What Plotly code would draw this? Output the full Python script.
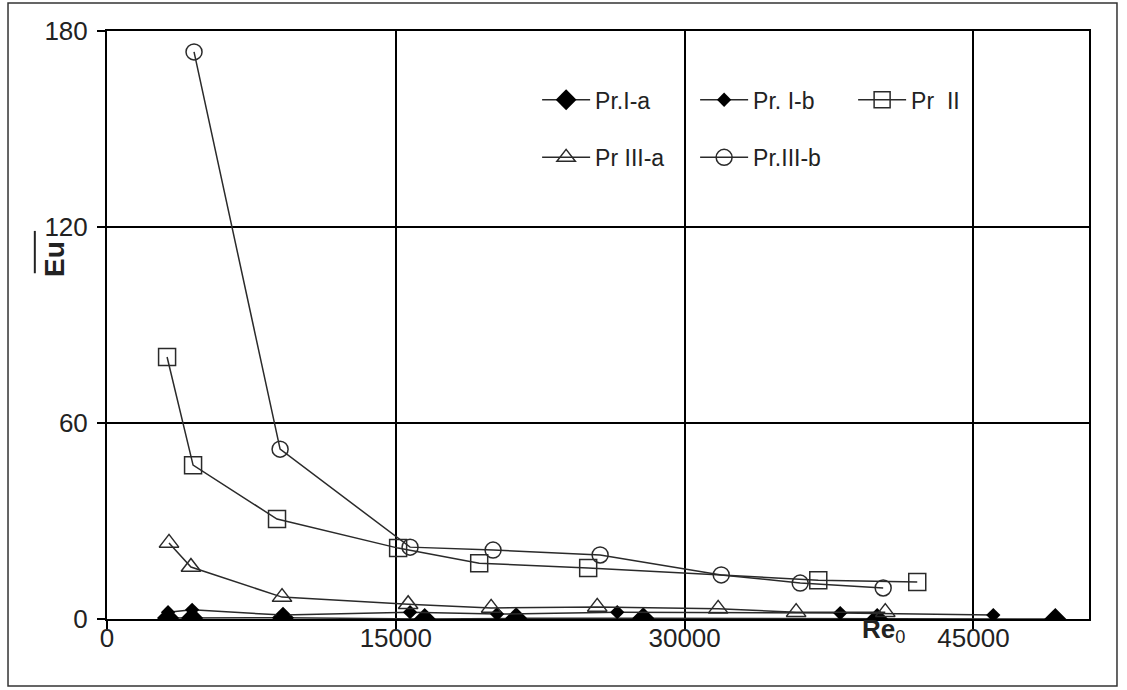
import plotly.graph_objects as go

# Data (Re0 vs mean Eu)
re_1a = [3170, 4420, 9140, 16500, 21250, 27850, 40000, 49250]
eu_1a = [0.3, 0.3, 0.4, 0.0, 0.2, 0.2, 0.0, 0.0]

re_1b = [3170, 4420, 9140, 15740, 20260, 26500, 38080, 46030]
eu_1b = [2.1, 2.8, 1.2, 2.1, 1.5, 2.1, 1.8, 1.2]

re_2 = [3120, 4470, 8830, 15120, 19330, 24990, 36940, 42080]
eu_2 = [80.2, 47.1, 30.6, 21.7, 17.1, 15.6, 11.9, 11.3]

re_3a = [3220, 4360, 9090, 15640, 19950, 25460, 31740, 35790, 40420]
eu_3a = [23.3, 15.9, 6.7, 4.5, 3.4, 3.7, 3.1, 2.1, 2.1]

re_3b = [4520, 8990, 15740, 20050, 25610, 31900, 36000, 40310]
eu_3b = [173.6, 52.0, 22.0, 21.1, 19.6, 13.5, 11.0, 9.5]

FONT = "Liberation Sans, Arial, sans-serif"
LINE = dict(color="#2a2a2a", width=1.5)

fig = go.Figure()

# row 1 of the legend
fig.add_trace(go.Scatter(
    x=re_1a, y=eu_1a, name="Pr.I-a", mode="lines+markers", line=LINE,
    marker=dict(symbol="diamond", size=17, color="black"), legend="legend",
))
fig.add_trace(go.Scatter(
    x=re_1b, y=eu_1b, name="Pr. I-b", mode="lines+markers", line=LINE,
    marker=dict(symbol="diamond", size=11, color="black"), legend="legend",
))
fig.add_trace(go.Scatter(
    x=re_2, y=eu_2, name="Pr\u00a0 II", mode="lines+markers", line=LINE,
    marker=dict(symbol="square-open", size=17, color="#2a2a2a",
                line=dict(width=1.5)),
    legend="legend",
))
# row 2 of the legend
fig.add_trace(go.Scatter(
    x=re_3a, y=eu_3a, name="Pr III-a", mode="lines+markers", line=LINE,
    marker=dict(symbol="triangle-up-open", size=17, color="#2a2a2a",
                line=dict(width=1.5)),
    legend="legend2",
))
fig.add_trace(go.Scatter(
    x=re_3b, y=eu_3b, name="Pr.III-b", mode="lines+markers", line=LINE,
    marker=dict(symbol="circle-open", size=16, color="#2a2a2a",
                line=dict(width=1.5)),
    legend="legend2",
))

legend_common = dict(
    orientation="h", xanchor="left", yanchor="middle",
    entrywidth=95, entrywidthmode="pixels", itemwidth=48,
    font=dict(family=FONT, size=23, color="#222"),
    bgcolor="rgba(0,0,0,0)", itemsizing="trace",
)

fig.update_layout(
    width=1127,
    height=690,
    margin=dict(l=107, r=38, t=31, b=71),
    paper_bgcolor="white",
    plot_bgcolor="white",
    font=dict(family=FONT, size=26, color="#222"),
    xaxis=dict(
        range=[0, 51000], dtick=15000, tick0=0,
        showline=True, linecolor="black", linewidth=2, mirror=True,
        showgrid=True, gridcolor="black", gridwidth=1.5,
        ticks="outside", ticklen=8, tickcolor="black", tickwidth=1.5,
        zeroline=False, tickformat="d", automargin=False,
        ticklabelstandoff=-13,
        tickfont=dict(size=26, color="#222"),
    ),
    yaxis=dict(
        range=[0, 180], dtick=60, tick0=0,
        showline=True, linecolor="black", linewidth=2, mirror=True,
        showgrid=True, gridcolor="black", gridwidth=1.5,
        ticks="outside", ticklen=8, tickcolor="black", tickwidth=1.5,
        zeroline=False, ticklabelstandoff=4, automargin=False,
        tickfont=dict(size=26, color="#222"),
    ),
    legend=dict(x=0.438, y=0.883, **legend_common),
    legend2=dict(x=0.438, y=0.785, **legend_common),
    showlegend=True,
)

# axis titles
fig.add_annotation(
    text="<b>Eu</b>", textangle=-90, showarrow=False,
    xref="paper", yref="paper", x=-0.072, y=0.612,
    font=dict(family=FONT, size=28, color="#222"),
)
fig.add_annotation(
    text="<b>Re</b><sub>0</sub>", showarrow=False,
    xref="paper", yref="paper", x=0.815, y=-0.02, yanchor="middle",
    font=dict(family=FONT, size=26, color="#222"),
)

# overline on Eu
fig.add_shape(
    type="line", xref="paper", yref="paper",
    x0=-0.0735, x1=-0.0735, y0=0.588, y1=0.66,
    line=dict(color="#222", width=2),
)
# outer frame around the chart
fig.add_shape(
    type="rect", xref="paper", yref="paper",
    x0=-0.1008, x1=1.0285, y0=-0.114, y1=1.0476,
    line=dict(color="#333", width=1.5),
)

fig.write_html(
    "out.html",
    config={"displayModeBar": False},
    post_script="document.body.style.margin='0';",
)
